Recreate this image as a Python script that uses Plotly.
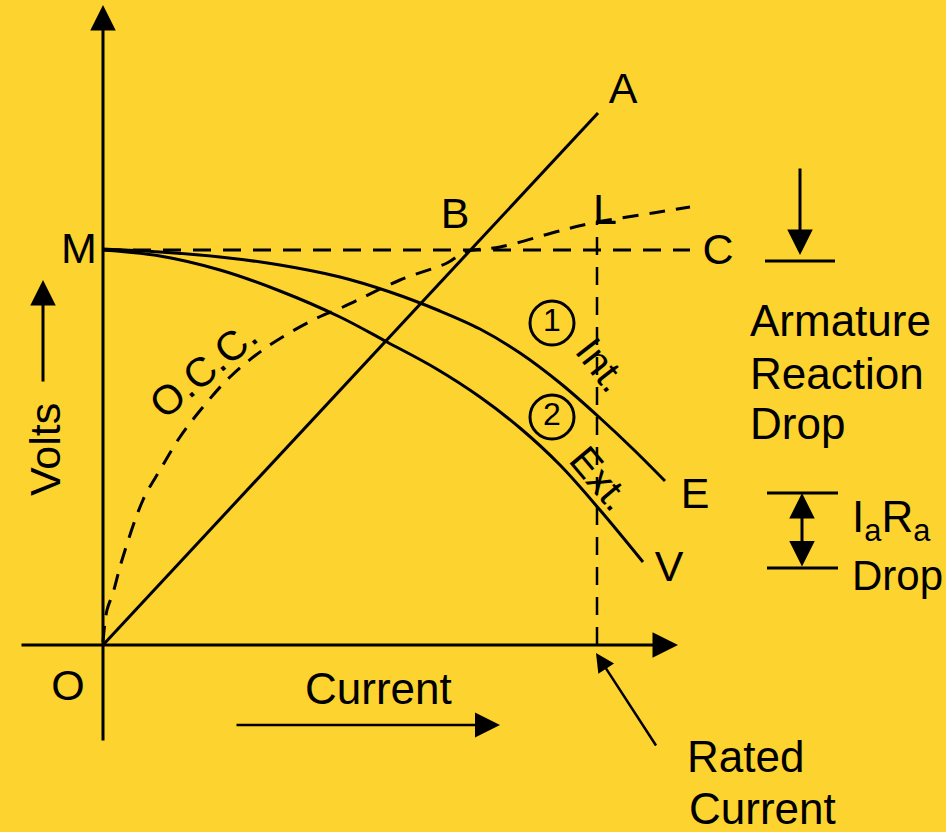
import plotly.graph_objects as go

# diagram units: origin at O, x = current, y = volts
# internal characteristic (1) M -> E
int_x = [0, 57, 117, 177, 237, 287, 337, 377, 417, 457, 497, 530, 562]
int_y = [396, 393, 388, 380, 368, 353, 334, 316, 292, 262, 227, 196, 164]
# external characteristic (2) M -> V
ext_x = [0, 57, 117, 177, 237, 284, 332, 377, 417, 457, 497, 540]
ext_y = [395, 389, 375, 354, 328, 303, 277, 248, 217, 180, 135, 83]
# open circuit characteristic
occ_x = [0, 4, 10, 19, 40, 57, 77, 100, 127, 164, 210, 240, 297, 344, 362, 397, 460, 494, 550, 587]
occ_y = [3, 35, 52, 85, 145, 175, 208, 238, 268, 298, 325, 338, 365, 382, 393, 398, 415, 423, 432, 438]
# field resistance line O -> A
oa_x = [0, 495]
oa_y = [0, 532]
# no-load voltage line M -> C
mc_x = [0, 587]
mc_y = [395, 395]
# rated current ordinate
rated_x = [494, 494]
rated_y = [0, 423]

# axes (tail, head)
xaxis_line = [-83, 575]
yaxis_line = [-97, 640]

point_labels = ["O", "M", "A", "B", "L", "C", "E", "V"]
point_lx = [-35, -24, 520, 352, 502, 615, 592, 566]
point_ly = [-44, 393, 553, 428, 432, 392, 148, 75]

circ_text = ["1", "2"]
circ_x = [449, 449]
circ_y = [322, 228]

BG = "#FDD32F"
FONT = "Liberation Sans, Arial, sans-serif"

fig = go.Figure()

def line(x, y, dash="solid", width=3, shape="linear"):
    fig.add_trace(go.Scatter(x=x, y=y, mode="lines", hoverinfo="skip",
                             line=dict(color="black", width=width, dash=dash, shape=shape)))

line(int_x, int_y, shape="spline")
line(ext_x, ext_y, shape="spline")
line(occ_x, occ_y, dash="16px,11px", shape="spline")
line(oa_x, oa_y)
line(mc_x, mc_y, dash="18px,12px")
line(rated_x, rated_y, dash="18px,12px", width=2.5)

# armature reaction bar and IaRa bars
line([662, 732], [384, 384], width=3)
line([664, 735], [152, 152], width=3)
line([664, 735], [77, 77], width=3)

fig.add_trace(go.Scatter(x=point_lx, y=point_ly, mode="text", text=point_labels,
                         textfont=dict(family=FONT, size=43, color="black"), hoverinfo="skip"))
fig.add_trace(go.Scatter(x=circ_x, y=circ_y, mode="markers+text", text=circ_text,
                         textposition="middle center",
                         marker=dict(symbol="circle-open", size=44, color="black", line=dict(width=3)),
                         textfont=dict(family=FONT, size=32, color="black"), hoverinfo="skip"))

def arrow(x0, y0, x1, y1, width=3, size=1.7, both=False):
    fig.add_annotation(x=x1, y=y1, ax=x0, ay=y0, xref="x", yref="y", axref="x", ayref="y",
                       text="", showarrow=True, arrowhead=2, arrowwidth=width, arrowsize=size,
                       arrowcolor="black", standoff=0, startstandoff=0,
                       arrowside="end+start" if both else "end", startarrowhead=2,
                       startarrowsize=size)

arrow(xaxis_line[0], 0, xaxis_line[1], 0)
arrow(0, yaxis_line[0], 0, yaxis_line[1])
arrow(-60, 262, -60, 365)
arrow(132, -80, 397, -80, width=2.5, size=2)
arrow(697, 478, 697, 390)
arrow(699, 77, 699, 152, both=True)
arrow(554, -102, 493, -8, width=2.5, size=1.5)

def label(x, y, text, size=44, angle=0, anchor="center"):
    fig.add_annotation(x=x, y=y, xref="x", yref="y", text=text, showarrow=False,
                       textangle=angle, xanchor=anchor,
                       font=dict(family=FONT, size=size, color="black"))

label(100, 275, "O.C.C.", size=41, angle=-40)
label(499, 280, "Int.", size=40, angle=52)
label(497, 167, "Ext.", size=40, angle=50)
label(-58, 195, "Volts", size=43, angle=-90)
label(275, -43, "Current")
label(645, 325, "Armature", anchor="left")
label(645, 272, "Reaction", anchor="left")
label(645, 222, "Drop", anchor="left")
label(747, 125, "I<sub>a</sub>R<sub>a</sub>", anchor="left")
label(747, 70, "Drop", size=42, anchor="left")
label(582, -111, "Rated", anchor="left")
label(584, -163, "Current", anchor="left")

fig.update_layout(width=946, height=832, margin=dict(l=0, r=0, t=0, b=0),
                  paper_bgcolor=BG, plot_bgcolor=BG, showlegend=False,
                  xaxis=dict(range=[-103, 843], visible=False, fixedrange=True),
                  yaxis=dict(range=[-187, 645], visible=False, fixedrange=True))

fig.write_html("out.html", config={"displayModeBar": False},
               post_script="document.body.style.margin='0';")
